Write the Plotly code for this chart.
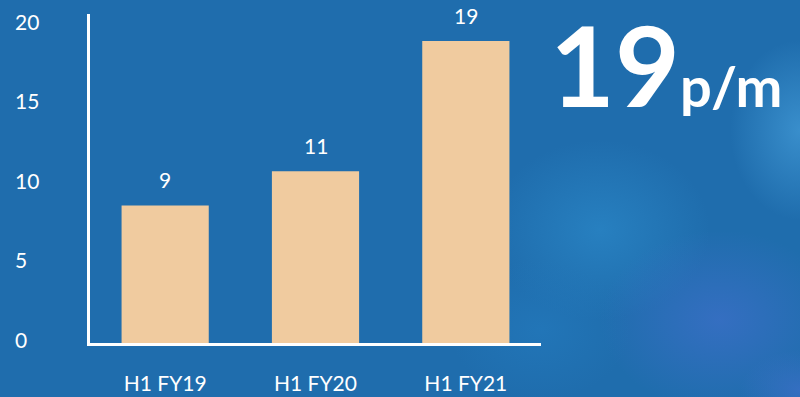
import base64
import plotly.graph_objects as go

# ---- data ----
categories = ["H1 FY19", "H1 FY20", "H1 FY21"]
values = [8.65, 10.8, 19]
value_labels = ["9", "11", "19"]
y_ticks = [0, 5, 10, 15, 20]
headline_num = "19"
headline_unit = "p/m"

W, H = 800, 397
ML, MR, MT, MB = 90, 259, 14, 54
PW, PH = W - ML - MR, H - MT - MB

BAR = "#F0CB9F"
WHITE = "#FFFFFF"
FONT = "Lato"

# background svg with soft gradient spots
svg = f"""<svg xmlns='http://www.w3.org/2000/svg' width='{W}' height='{H}' viewBox='0 0 {W} {H}'>
<defs>
<radialGradient id='a' cx='0.5' cy='0.5' r='0.5'><stop offset='0' stop-color='#2A86C6' stop-opacity='0.75'/><stop offset='1' stop-color='#2A86C6' stop-opacity='0'/></radialGradient>
<radialGradient id='b' cx='0.5' cy='0.5' r='0.5'><stop offset='0' stop-color='#3C92CF' stop-opacity='0.9'/><stop offset='1' stop-color='#3C92CF' stop-opacity='0'/></radialGradient>
<radialGradient id='c' cx='0.5' cy='0.5' r='0.5'><stop offset='0' stop-color='#3A6FC6' stop-opacity='0.8'/><stop offset='1' stop-color='#3A6FC6' stop-opacity='0'/></radialGradient>
<radialGradient id='d' cx='0.5' cy='0.5' r='0.5'><stop offset='0' stop-color='#2379BC' stop-opacity='0.7'/><stop offset='1' stop-color='#2379BC' stop-opacity='0'/></radialGradient>
</defs>
<rect width='{W}' height='{H}' fill='#1F6DAD'/>
<ellipse cx='600' cy='230' rx='110' ry='90' fill='url(#a)'/>
<ellipse cx='800' cy='130' rx='70' ry='90' fill='url(#b)'/>
<ellipse cx='720' cy='320' rx='120' ry='90' fill='url(#c)'/>
<ellipse cx='540' cy='330' rx='90' ry='70' fill='url(#d)'/>
<ellipse cx='800' cy='390' rx='60' ry='40' fill='url(#c)'/>
</svg>"""
bg_uri = "data:image/svg+xml;base64," + base64.b64encode(svg.encode()).decode()

fig = go.Figure()
fig.add_trace(go.Bar(x=categories, y=values, marker=dict(color=BAR, line=dict(width=0)),
                     hoverinfo="skip"))

annotations = []
for c, v, t in zip(categories, values, value_labels):
    annotations.append(dict(x=c, y=v, xref="x", yref="y", text=t, showarrow=False,
                            yanchor="bottom", yshift=11,
                            font=dict(family=FONT, size=21, color=WHITE)))
for t in y_ticks:
    annotations.append(dict(x=(13 - ML) / PW, y=t, xref="paper", yref="y", text=str(t),
                            showarrow=False, xanchor="left", yanchor="middle", yshift=4,
                            font=dict(family=FONT, size=21, color=WHITE)))
annotations.append(dict(
    x=(548 - ML) / PW, y=(H - MB - 63) / PH, xref="paper", yref="paper",
    xanchor="left", yanchor="middle", showarrow=False,
    text=f"<b><span style='font-size:112px'>{headline_num}</span><span style='font-size:56px'>{headline_unit}</span></b>",
    font=dict(family=FONT, size=56, color=WHITE)))

fig.update_layout(
    width=W, height=H,
    margin=dict(l=ML, r=MR, t=MT, b=MB, pad=0, autoexpand=False),
    paper_bgcolor="#1F6DAD", plot_bgcolor="rgba(0,0,0,0)",
    showlegend=False, bargap=0.42,
    images=[dict(source=bg_uri, xref="paper", yref="paper", x=-ML / PW, y=(PH + MT) / PH,
                 sizex=W / PW, sizey=H / PH, sizing="stretch", layer="below",
                 xanchor="left", yanchor="top")],
    annotations=annotations,
    xaxis=dict(showline=True, linecolor=WHITE, linewidth=3, showgrid=False, zeroline=False,
               ticks="", ticklabelstandoff=20, automargin=False,
               tickfont=dict(family=FONT, size=21, color=WHITE), fixedrange=True),
    yaxis=dict(showline=True, linecolor=WHITE, linewidth=2.5, showgrid=False, zeroline=False,
               range=[0, PH / 15.9], tickvals=y_ticks, showticklabels=False, ticks="",
               automargin=False, fixedrange=True),
)

fig.write_html("out.html")
